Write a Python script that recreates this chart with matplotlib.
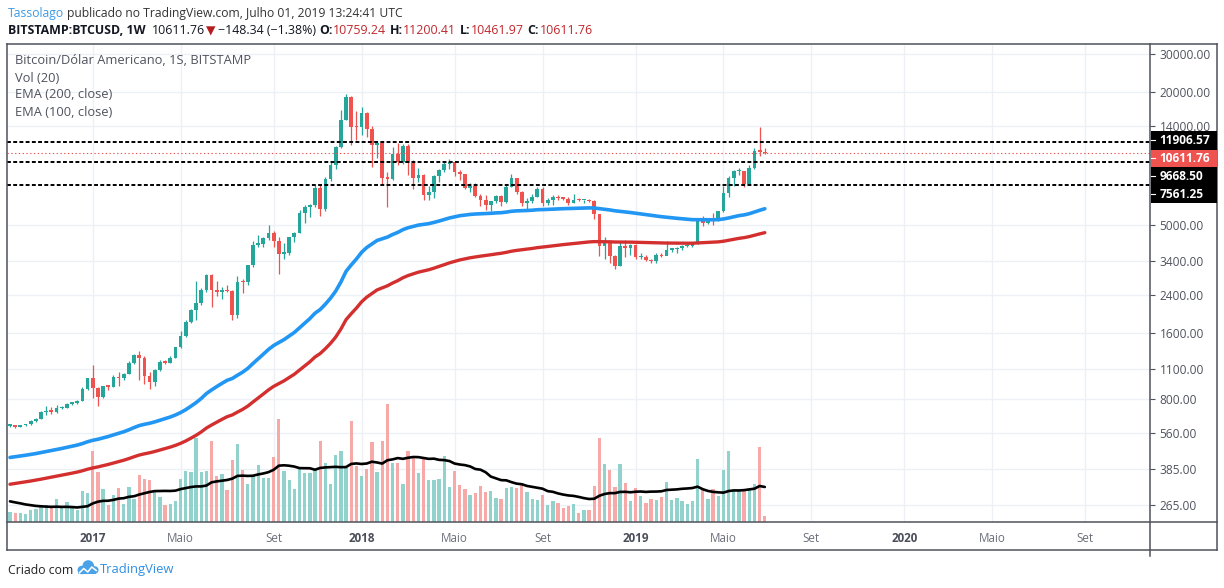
import matplotlib
matplotlib.use("Agg")
import matplotlib.pyplot as plt
import numpy as np
import pandas as pd
from matplotlib.patches import Rectangle, Circle
from matplotlib.ticker import NullLocator

plt.rcParams['font.family'] = ['Open Sans', 'DejaVu Sans']

# ---------------- data (BITSTAMP:BTCUSD, weekly bars) ----------------
first_week = "2016-09-12"

opens = [607, 609, 601, 612, 617, 641, 655, 698, 710, 703,
         730, 733, 765, 768, 790, 893, 998, 905, 820, 920,
         915, 1015, 1000, 1050, 1170, 1270, 1230, 1020, 960, 1085,
         1190, 1175, 1240, 1380, 1560, 1800, 2050, 2200, 2520, 2960,
         2520, 2480, 2500, 2490, 1930, 2750, 2730, 3260, 4050, 4080,
         4350, 4580, 4230, 3690, 3700, 4380, 4600, 5680, 6010, 6150,
         7380, 5880, 8050, 9300, 11300, 15000, 19100, 13900, 13880, 16200,
         13600, 11500, 11750, 8200, 8100, 10450, 9600, 11450, 9550, 8200,
         8450, 6850, 7020, 8350, 8900, 9400, 9650, 8700, 8520, 7350,
         7500, 6770, 6450, 6150, 6380, 6750, 6350, 7400, 8200, 7030,
         6300, 6400, 6700, 7300, 6250, 6500, 6700, 6600, 6570, 6300,
         6500, 6460, 6480, 6380, 5600, 4000, 4150, 3600, 3230, 4000,
         3900, 4050, 3550, 3560, 3450, 3410, 3620, 3600, 3850, 3870,
         3900, 3990, 4010, 4100, 5200, 5070, 5300, 5250, 5750, 7000,
         8200, 8740, 8760, 7650, 9050, 10850, 10759.24]

highs = [612, 611, 614, 619, 642, 656, 707, 745, 740, 755,
         749, 774, 781, 793, 912, 1000, 1150, 915, 923, 925,
         1030, 1070, 1060, 1195, 1290, 1330, 1260, 1070, 1100, 1210,
         1215, 1260, 1385, 1640, 1850, 2070, 2760, 2580, 2980, 2990,
         2770, 2600, 2650, 2530, 2920, 2830, 3290, 4200, 4480, 4400,
         4980, 4680, 4380, 4130, 4400, 4620, 5850, 6150, 6200, 7600,
         7600, 8250, 9800, 11400, 16700, 19660, 19300, 16500, 17250, 16300,
         14000, 12050, 11800, 8700, 11250, 11800, 11600, 11700, 9900, 9100,
         8550, 7500, 8400, 9000, 9750, 9950, 9650, 8850, 8550, 7750,
         7780, 6900, 6850, 6400, 6800, 6800, 7700, 8500, 8200, 7150,
         6600, 6900, 7400, 7400, 6600, 6800, 6800, 6700, 6700, 6900,
         6600, 6500, 6550, 6500, 5600, 4400, 4200, 3650, 4200, 4250,
         4100, 4100, 3700, 3650, 3500, 3720, 3700, 4200, 3900, 3950,
         4050, 4080, 4150, 5350, 5470, 5350, 5630, 5800, 7500, 8300,
         8900, 9090, 8800, 9300, 11200, 13880, 11200.41]

lows = [598, 592, 600, 606, 615, 629, 650, 681, 690, 697,
        725, 728, 752, 761, 788, 882, 810, 750, 812, 880,
        912, 920, 980, 1045, 1165, 980, 940, 890, 925, 1080,
        1160, 1170, 1230, 1370, 1540, 1780, 1850, 2150, 2480, 2100,
        2360, 2300, 2470, 1840, 1880, 2450, 2650, 3200, 3950, 3950,
        4280, 3950, 2980, 3500, 3650, 4150, 4580, 5100, 5400, 6050,
        5500, 5800, 7900, 9000, 11200, 15000, 11500, 12200, 12800, 12600,
        9200, 10050, 7700, 6000, 8000, 9300, 9400, 8400, 7300, 7800,
        6450, 6450, 6600, 7850, 8700, 9000, 8350, 7950, 7250, 7050,
        6650, 6100, 5850, 5800, 6300, 6100, 6300, 7400, 6900, 6100,
        5900, 6250, 6650, 6100, 6150, 6150, 6450, 6450, 6150, 6250,
        6400, 6250, 6350, 5300, 3600, 3500, 3350, 3150, 3230, 3550,
        3650, 3500, 3480, 3400, 3350, 3350, 3550, 3650, 3750, 3700,
        3820, 3950, 3950, 4100, 4930, 5050, 5000, 5200, 5700, 6650,
        7500, 8450, 7450, 7550, 8950, 10300, 10461.97]

closes = [609, 601, 612, 617, 641, 655, 698, 710, 703, 730,
          733, 765, 768, 790, 893, 998, 905, 820, 920, 915,
          1015, 1000, 1050, 1170, 1270, 1230, 1020, 960, 1085, 1190,
          1175, 1240, 1380, 1560, 1800, 2050, 2200, 2520, 2960, 2520,
          2480, 2500, 2490, 1930, 2750, 2730, 3260, 4050, 4080, 4350,
          4580, 4230, 3690, 3700, 4380, 4600, 5680, 6010, 6150, 7380,
          5880, 8050, 9300, 11300, 15000, 19100, 13900, 13880, 16200, 13600,
          11500, 11750, 8200, 8100, 10450, 9600, 11450, 9550, 8200, 8450,
          6850, 7020, 8350, 8900, 9400, 9650, 8700, 8520, 7350, 7500,
          6770, 6450, 6150, 6380, 6750, 6350, 7400, 8200, 7030, 6300,
          6400, 6700, 7300, 6250, 6500, 6700, 6600, 6570, 6300, 6500,
          6460, 6480, 6380, 5600, 4000, 4150, 3600, 3230, 4000, 3900,
          4050, 3550, 3560, 3450, 3410, 3620, 3600, 3850, 3870, 3900,
          3990, 4010, 4100, 5200, 5070, 5300, 5250, 5750, 7000, 8200,
          8740, 8760, 7650, 9050, 10850, 10759.24, 10611.76]

# weekly volume (thousand BTC)
volume_k = [25, 22, 23, 20, 29, 33, 42, 42, 35, 58, 38, 49, 36, 31, 78, 73,
            178, 125, 83, 43, 68, 85, 45, 88, 58, 118, 108, 105, 78, 63, 43, 45,
            53, 108, 128, 125, 210, 125, 128, 203, 115, 120, 80, 155, 195, 130, 95, 115,
            143, 110, 110, 163, 258, 128, 105, 83, 133, 123, 123, 130, 203, 148, 95, 168,
            178, 135, 253, 140, 115, 133, 200, 125, 203, 295, 148, 148, 95, 178, 160, 123,
            160, 105, 105, 108, 165, 88, 128, 93, 83, 68, 73, 90, 75, 78, 60, 58,
            85, 88, 85, 93, 75, 58, 55, 68, 43, 53, 48, 35, 40, 45, 23, 30,
            30, 90, 210, 145, 130, 88, 145, 98, 53, 85, 65, 48, 58, 55, 63, 100,
            55, 60, 53, 45, 53, 158, 83, 58, 83, 65, 130, 178, 83, 83, 83, 83, 95, 188, 15]
# the 19 weeks before the first visible bar (feed the 20-week volume average)
volume_prior_k = [75, 70, 75, 65, 70, 63, 55, 50, 48, 50, 45, 48, 50, 45, 43, 40, 38, 40, 38]

ema100_seed = 432.0
ema200_seed = 326.0

dashed_levels = [11906.57, 9668.50, 7561.25]
last_price = 10611.76

price_ticks = [30000, 20000, 14000, 5000, 3400, 2400, 1600, 1100, 800, 560, 385, 265]
time_labels = ["2017", "Maio", "Set", "2018", "Maio", "Set", "2019", "Maio", "Set",
               "2020", "Maio", "Set"]
time_label_dates = ["2017-01-02", "2017-05-01", "2017-09-04", "2018-01-01", "2018-05-07",
                    "2018-09-03", "2019-01-07", "2019-05-06", "2019-09-02", "2020-01-06",
                    "2020-05-04", "2020-09-07"]

# ---------------- layout ----------------
W, H = 1224, 588
fig = plt.figure(figsize=(W / 100, H / 100), dpi=100)
fig.patch.set_facecolor("white")

PL, PR, PT, PB = 6.5, 1150.0, 43.5, 522.0
X0_PX, STEP_PX = 10.0, 5.17
Y_REF_PX, Y_REF_PRICE, PX_PER_DEC = 53.8, 30000.0, 219.6
VOL_PER_PX = 2.5

def price_at(ypx):
    return Y_REF_PRICE / 10 ** ((ypx - Y_REF_PX) / PX_PER_DEC)

rect = [PL / W, 1 - PB / H, (PR - PL) / W, (PB - PT) / H]
xlim = ((PL - X0_PX) / STEP_PX, (PR - X0_PX) / STEP_PX)
ylim = (price_at(PB), price_at(PT))

GREEN, RED = "#26a69a", "#ef5350"
GRID = "#edf0f5"
AXC = "#50535e"

n = len(closes)
x = np.arange(n)
o, h, l, c = (np.array(a, dtype=float) for a in (opens, highs, lows, closes))
up = c >= o

t0 = pd.Timestamp(first_week)
tick_idx = [(pd.Timestamp(d) - t0).days / 7 for d in time_label_dates]

# grid axes
axg = fig.add_axes(rect)
axg.set_yscale("log")
axg.set_xlim(*xlim)
axg.set_ylim(*ylim)
for tv in price_ticks:
    axg.axhline(tv, color=GRID, lw=1.0)
for ti in tick_idx:
    axg.axvline(ti, color=GRID, lw=1.0)
axg.set_xticks([]); axg.set_yticks([])
axg.yaxis.set_minor_locator(NullLocator())
for s in axg.spines.values():
    s.set_visible(False)

# volume axes
axv = fig.add_axes(rect)
axv.patch.set_alpha(0)
axv.set_xlim(*xlim)
axv.set_ylim(0, (PB - PT) * VOL_PER_PX)
vcol = np.where(up, "#92d2cc", "#f7a9a7")
axv.bar(x, volume_k, width=0.64, color=vcol, linewidth=0)
vol_ma = pd.Series(volume_prior_k + volume_k, dtype=float).rolling(20).mean().iloc[len(volume_prior_k):]
axv.plot(x, vol_ma.values, color="black", lw=1.9, solid_capstyle="round")
axv.axis("off")

# price axes
ax = fig.add_axes(rect)
ax.patch.set_alpha(0)
ax.set_yscale("log")
ax.set_xlim(*xlim)
ax.set_ylim(*ylim)

def ema(values, span, seed):
    a = 2.0 / (span + 1)
    out, e = [], seed
    for v in values:
        e = e + a * (v - e)
        out.append(e)
    return np.array(out)

ema100 = ema(c, 100, ema100_seed)
ema200 = ema(c, 200, ema200_seed)

ccol = np.where(up, GREEN, RED)
ax.vlines(x, l, h, colors=ccol, lw=0.9, zorder=3)
blo = np.minimum(o, c)
bhi = np.maximum(np.maximum(o, c), blo * 10 ** (1.3 / PX_PER_DEC))
ax.bar(x, bhi - blo, bottom=blo, width=0.72, color=ccol, linewidth=0, zorder=4)

ax.plot(x, ema200, color="#d32f2f", lw=2.4, zorder=5, solid_capstyle="round")
ax.plot(x, ema100, color="#2196f3", lw=2.6, zorder=5, solid_capstyle="round")

for lv in dashed_levels:
    ax.axhline(lv, color="black", lw=1.4, dashes=(2.0, 1.2), zorder=6)
ax.axhline(last_price, color=RED, lw=0.8, dashes=(1.2, 2.2), zorder=6)

ax.yaxis.set_ticks_position("right")
ax.set_yticks(price_ticks)
ax.set_yticklabels([f"{v:.2f}" for v in price_ticks])
ax.yaxis.set_minor_locator(NullLocator())
ax.tick_params(axis="y", direction="out", length=3.5, width=0.8, color=AXC,
               labelcolor=AXC, labelsize=8.6, pad=3.5)
ax.set_xticks(tick_idx)
ax.set_xticklabels(time_labels)
ax.tick_params(axis="x", length=0, pad=7.5, labelsize=8.4)
for lab in ax.get_xticklabels():
    if lab.get_text().isdigit():
        lab.set_fontweight("bold"); lab.set_color("#4a4e59")
    else:
        lab.set_color("#6b6f7a")
for s in ax.spines.values():
    s.set_visible(False)

# ---------------- overlay (pixel coordinates) ----------------
ov = fig.add_axes([0, 0, 1, 1])
ov.set_xlim(0, W); ov.set_ylim(H, 0)
ov.patch.set_alpha(0)
ov.axis("off")
ov.set_zorder(10)

FR = "#4f525c"
lw_fr = 1.1
ov.plot([6.5, 1216.5], [43.5, 43.5], color=FR, lw=lw_fr)
ov.plot([6.5, 1216.5], [550, 550], color=FR, lw=lw_fr)
ov.plot([6.5, 6.5], [43.5, 550], color=FR, lw=lw_fr)
ov.plot([1216.5, 1216.5], [43.5, 550], color=FR, lw=lw_fr)
ov.plot([6.5, 1216.5], [522, 522], color=FR, lw=lw_fr)
ov.plot([1150, 1150], [43.5, 556], color=FR, lw=lw_fr)

# price label boxes on the axis
boxes = [(11906.57, 131.0, 149.5, "black"), (10611.76, 149.5, 167.0, RED),
         (9668.50, 167.0, 185.0, "black"), (7561.25, 185.0, 203.0, "black")]
for val, y0, y1, colr in boxes:
    ov.add_patch(Rectangle((1150.6, y0), 66, y1 - y0, color=colr, lw=0, zorder=11))
    ov.plot([1150.6, 1154.5], [(y0 + y1) / 2] * 2, color="white", lw=0.8, zorder=12)
    ov.text(1159.5, (y0 + y1) / 2 + 0.5, f"{val:.2f}", color="white", fontsize=8.6,
            fontweight="bold", va="center", ha="left", zorder=12)

renderer = fig.canvas.get_renderer()

def seq_text(x0, y, segs, size, target_w=None):
    def draw(sz):
        arts, xx = [], x0
        for s, colr, wt, fam, gap in segs:
            xx += gap
            t = ov.text(xx, y, s, color=colr, fontsize=sz, fontweight=wt, family=fam,
                        va="baseline", ha="left")
            xx += t.get_window_extent(renderer).width
            arts.append(t)
        return arts, xx - x0
    arts, wdt = draw(size)
    if target_w:
        for a in arts:
            a.remove()
        arts, wdt = draw(size * target_w / wdt)
    return arts, x0 + wdt

F = ["Open Sans", "DejaVu Sans"]
DK = "#131722"
seq_text(8, 16.5, [("Tassolago", "#3b9be6", "normal", F, 0),
                   ("publicado no TradingView.com, Julho 01, 2019 13:24:41 UTC", "#333333", "normal", F, 3.2)],
         8.8, target_w=399)
VR = "#c0282d"
seq_text(8, 34.3, [("BITSTAMP:BTCUSD, 1W", DK, "bold", F, 0),
                   ("10611.76", DK, "normal", F, 6),
                   ("\u25bc", "#b71c1c", "normal", ["DejaVu Sans"], 1.5),
                   ("\u2212148.34 (\u22121.38%)", DK, "normal", F, 2),
                   ("O:", DK, "bold", F, 3.5), ("10759.24", VR, "normal", F, 0.5),
                   ("H:", DK, "bold", F, 3.5), ("11200.41", VR, "normal", F, 0.5),
                   ("L:", DK, "bold", F, 3.5), ("10461.97", VR, "normal", F, 0.5),
                   ("C:", DK, "bold", F, 3.5), ("10611.76", VR, "normal", F, 0.5)],
         8.8, target_w=589)

LG = "#50535e"
leg, _ = seq_text(15, 64.5, [("Bitcoin/Dólar Americano, 1S, BITSTAMP", LG, "normal", F, 0)], 8.6, target_w=233)
lsz = leg[0].get_fontsize()
for i, s in enumerate(["Vol (20)", "EMA (200, close)", "EMA (100, close)"]):
    ov.text(15, 64.5 + 17 * (i + 1), s, color=LG, fontsize=lsz, va="baseline", ha="left")

# footer
_, xe = seq_text(8, 573.5, [("Criado com", "#222222", "normal", F, 0)], 8.8)
lx = xe + 4
LB = "#4aa3e8"
for cx, cy, r in [(lx + 4.5, 570.0, 4.2), (lx + 11.0, 566.0, 5.8), (lx + 17.5, 570.0, 3.8)]:
    ov.add_patch(Circle((cx, cy), r, color=LB, lw=0, zorder=11))
ov.add_patch(Rectangle((lx + 0.5, 569.5), 18.5, 4.8, color=LB, lw=0, zorder=11))
ov.plot([lx + 2, lx + 6.5, lx + 10.5, lx + 14.5, lx + 19], [573, 568.5, 572, 567, 570.5],
        color="white", lw=1.1, zorder=12)
seq_text(lx + 23, 573.5, [("TradingView", "#2f8fe3", "normal", F, 0)], 9.4)

fig.savefig("out.png", dpi=100, facecolor="white")
